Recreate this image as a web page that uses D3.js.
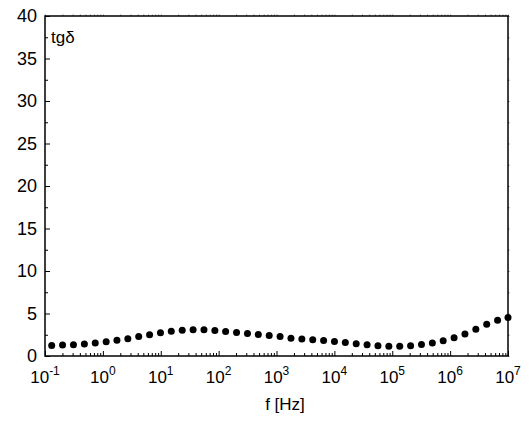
<!DOCTYPE html>
<html>
<head>
<meta charset="utf-8">
<script src="https://cdn.jsdelivr.net/npm/d3@7"></script>
<style>
  body { margin: 0; background: #fff; }
  text { font-family: "Liberation Sans", Arial, sans-serif; fill: #000; }
</style>
</head>
<body>
<svg id="chart" width="529" height="421"></svg>
<script>
// frequency [Hz] and loss tangent
var freq = [0.1306, 0.201, 0.310, 0.479, 0.738, 1.14, 1.75, 2.70, 4.16, 6.41,
	9.89, 15.2, 23.5, 36.2, 55.8, 86.1, 132, 204, 315, 485,
	748, 1153, 1778, 2742, 4227, 6516, 10030, 15460, 23830, 36730,
	56620, 87300, 134600, 207500, 319900, 493200, 758600, 1170000, 1803000, 2780000,
	4285000, 6607000, 10000000];
var tgd = [1.24, 1.28, 1.33, 1.42, 1.54, 1.67, 1.84, 2.04, 2.29, 2.50,
	2.74, 2.90, 3.02, 3.08, 3.08, 3.00, 2.88, 2.76, 2.65, 2.53,
	2.41, 2.29, 2.10, 2.00, 1.92, 1.82, 1.70, 1.58, 1.43, 1.31,
	1.22, 1.14, 1.16, 1.22, 1.35, 1.52, 1.78, 2.15, 2.58, 3.16,
	3.73, 4.20, 4.52];
var xExponents = [-1, 0, 1, 2, 3, 4, 5, 6, 7];
var yTicks = [0, 5, 10, 15, 20, 25, 30, 35, 40];

(function(){

	var left = 45, right = 508, top = 16, bottom = 356;
	var svg = d3.select('#chart');

	var x = d3.scaleLog().domain([0.1, 1e7]).range([left, right]);
	var y = d3.scaleLinear().domain([0, 40]).range([bottom, top]);

	var majorX = xExponents.map(function(e){ return Math.pow(10, e); });
	var minorX = [];
	xExponents.slice(0, -1).forEach(function(e){
		for (var k = 2; k < 10; k++) minorX.push(k * Math.pow(10, e));
	});
	var minorY = d3.range(2.5, 40, 5);

	// draws an axis without its domain line
	function ticks(g, axis) { g.call(axis).call(function(s){ s.select('.domain').remove(); }); }

	// inward ticks on bottom and left
	var gx = svg.append('g').attr('transform', 'translate(0,' + bottom + ')');
	ticks(gx, d3.axisTop(x).tickValues(minorX).tickSize(3).tickFormat(''));
	var gx2 = svg.append('g').attr('transform', 'translate(0,' + bottom + ')');
	ticks(gx2, d3.axisTop(x).tickValues(majorX).tickSize(5).tickFormat(''));

	var gy = svg.append('g').attr('transform', 'translate(' + left + ',0)');
	ticks(gy, d3.axisRight(y).tickValues(minorY).tickSize(3).tickFormat(''));
	var gy2 = svg.append('g').attr('transform', 'translate(' + left + ',0)');
	ticks(gy2, d3.axisRight(y).tickValues(yTicks).tickSize(5).tickFormat(''));

	// tiny outward ticks on top and right
	var gt = svg.append('g').attr('transform', 'translate(0,' + top + ')');
	ticks(gt, d3.axisTop(x).tickValues(majorX.concat(minorX)).tickSize(1.5).tickFormat(''));
	var gr = svg.append('g').attr('transform', 'translate(' + right + ',0)');
	ticks(gr, d3.axisRight(y).tickValues(yTicks.concat(minorY)).tickSize(1.5).tickFormat(''));

	svg.selectAll('.tick line').attr('stroke', '#000').attr('stroke-width', 1);
	gt.selectAll('.tick line').attr('stroke', '#777');
	gr.selectAll('.tick line').attr('stroke', '#777');

	svg.append('rect')
		.attr('x', left).attr('y', top)
		.attr('width', right - left).attr('height', bottom - top)
		.attr('fill', 'none').attr('stroke', '#000').attr('stroke-width', 1.5);

	// x tick labels 10^n
	var xl = svg.append('g').selectAll('text').data(xExponents).enter()
		.append('text')
			.attr('x', function(e){ return x(Math.pow(10, e)); })
			.attr('y', 383)
			.attr('text-anchor', 'middle')
			.style('font-size', '17px');
	xl.append('tspan').text('10');
	xl.append('tspan').attr('dy', -8).style('font-size', '12px').text(function(e){ return e; });

	// y tick labels
	svg.append('g').selectAll('text').data(yTicks).enter()
		.append('text')
			.attr('x', 37)
			.attr('y', function(d){ return y(d); })
			.attr('dy', '0.36em')
			.attr('text-anchor', 'end')
			.style('font-size', '18px')
			.text(function(d){ return d; });

	svg.append('text').attr('x', 285).attr('y', 410).attr('text-anchor', 'middle')
		.style('font-size', '17px').text('f [Hz]');
	svg.append('text').attr('x', 51).attr('y', 43)
		.style('font-size', '17px').text('tgδ');

	svg.append('g').selectAll('circle').data(freq).enter()
		.append('circle')
			.attr('cx', function(d){ return x(d); })
			.attr('cy', function(d, i){ return y(tgd[i]); })
			.attr('r', 3.5)
			.attr('fill', '#000');
})();
</script>
</body>
</html>
